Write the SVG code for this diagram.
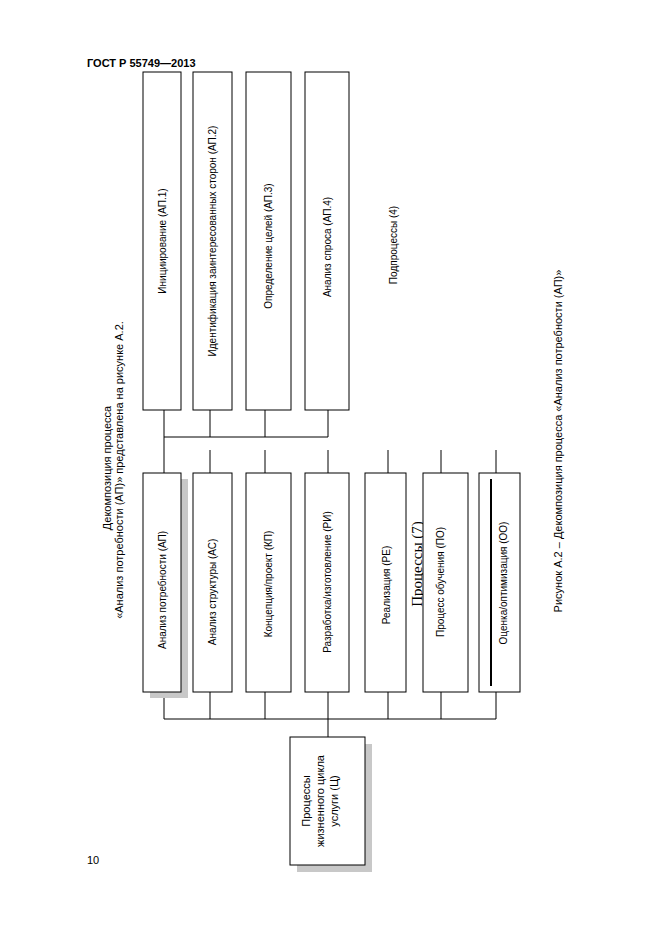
<svg xmlns="http://www.w3.org/2000/svg" width="661" height="936" viewBox="0 0 661 936">
<style>
.box{fill:#fff;stroke:#000;stroke-width:1}
.sh{fill:#c8c8c8;stroke:none}
.t{font-family:"Liberation Sans",Arial,sans-serif;font-size:10px;fill:#000;text-anchor:middle}
.c{font-family:"Liberation Sans",Arial,sans-serif;font-size:11px;fill:#000;text-anchor:middle}
.ln{stroke:#000;stroke-width:1;fill:none}
</style>
<rect width="661" height="936" fill="#fff"/>
<text x="87" y="67" font-family="Liberation Sans,Arial,sans-serif" font-size="11" font-weight="bold" fill="#000">ГОСТ Р 55749—2013</text>
<text x="87" y="864" font-family="Liberation Sans,Arial,sans-serif" font-size="11" fill="#000">10</text>
<g id="caption-left">
<text class="c" transform="translate(111,468) rotate(-90)">Декомпозиция процесса</text>
<text class="c" transform="translate(123,470) rotate(-90)">«Анализ потребности (АП)» представлена на рисунке А.2.</text>
</g>
<g id="caption-right">
<text class="c" transform="translate(562,441) rotate(-90)">Рисунок А.2 – Декомпозиция процесса «Анализ потребности (АП)»</text>
</g>
<g id="connectors" class="ln">
<path d="M164,410V473M210,410V437M265,410V437M328,410V437M164,437H328"/>
<path d="M210,450V473M265,450V473M328,450V473M388,450V473M441,450V473M496,450V473"/>
<path d="M164,692V719M210,692V719M265,692V719M328,692V719M388,692V719M441,692V719M496,692V719M164,719H496M328,719V737"/>
</g>
<g id="ap1"><rect class="box" x="143" y="72" width="38" height="338"/><text class="t" transform="translate(166,241) rotate(-90)">Инициирование (АП.1)</text></g>
<g id="ap2"><rect class="box" x="193" y="72" width="39" height="338"/><text class="t" transform="translate(216,241) rotate(-90)">Идентификация заинтересованных сторон (АП.2)</text></g>
<g id="ap3"><rect class="box" x="246" y="72" width="45" height="338"/><text class="t" transform="translate(272,246) rotate(-90)">Определение целей (АП.3)</text></g>
<g id="ap4"><rect class="box" x="305" y="72" width="44" height="338"/><text class="t" transform="translate(331,247) rotate(-90)">Анализ спроса (АП.4)</text></g>
<g id="label-sub"><text class="t" transform="translate(397,245) rotate(-90)">Подпроцессы (4)</text></g>
<g id="ap"><rect class="sh" x="150" y="479" width="38" height="219"/><rect class="box" x="143" y="473" width="38" height="219"/><text class="t" transform="translate(166,590) rotate(-90)">Анализ потребности (АП)</text></g>
<g id="as"><rect class="box" x="193" y="473" width="39" height="219"/><text class="t" transform="translate(216,592) rotate(-90)">Анализ структуры (АС)</text></g>
<g id="kp"><rect class="box" x="246" y="473" width="45" height="219"/><text class="t" transform="translate(272,584) rotate(-90)">Концепция/проект (КП)</text></g>
<g id="ri"><rect class="box" x="305" y="473" width="44" height="219"/><text class="t" transform="translate(331,582) rotate(-90)">Разработка/изготовление (РИ)</text></g>
<g id="re"><rect class="box" x="365" y="473" width="41" height="219"/><text class="t" transform="translate(390,585) rotate(-90)">Реализация (РЕ)</text></g>
<g id="label-proc"><text transform="translate(422,564) rotate(-90)" font-family="Liberation Serif,Times New Roman,serif" font-size="15" text-anchor="middle" fill="#000">Процессы (7)</text></g>
<g id="po"><rect class="box" x="423" y="473" width="45" height="219"/><text class="t" transform="translate(444,582) rotate(-90)">Процесс обучения (ПО)</text></g>
<g id="oo"><rect class="box" x="479" y="473" width="41" height="219"/><line x1="491" y1="479" x2="491" y2="686" stroke="#000" stroke-width="2"/><text class="t" transform="translate(507,583) rotate(-90)">Оценка/оптимизация (ОО)</text></g>
<g id="lc"><rect class="sh" x="297" y="744" width="75" height="128"/><rect class="box" x="290" y="737" width="75" height="128"/>
<text class="t" transform="translate(310,801) rotate(-90)" style="font-size:11px">Процессы</text>
<text class="t" transform="translate(324,801) rotate(-90)" style="font-size:11px">жизненного цикла</text>
<text class="t" transform="translate(338,801) rotate(-90)" style="font-size:11px">услуги (Ц)</text></g>
</svg>
